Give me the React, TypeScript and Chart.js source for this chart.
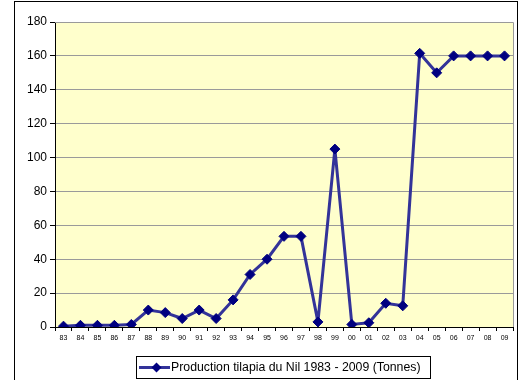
import React, { useEffect, useRef } from "react";
import { Chart, registerables } from "chart.js";

Chart.register(...registerables);

const years = ["83","84","85","86","87","88","89","90","91","92","93","94","95","96","97","98","99","00","01","02","03","04","05","06","07","08","09"];
const production = [0.5,1,1,1,1.5,10,8.5,5,10,5,16,31,40,53.5,53.5,3,105,1.5,2.5,14,12.5,161.5,150,160,160,160,160];
const seriesLabel = "Production tilapia du Nil 1983 - 2009 (Tonnes)";
const yMax = 180;
const yStep = 20;

const FONT = "'Liberation Sans', Arial, sans-serif";

const framePlugin = {
  id: "frame",
  beforeDraw(chart: any) {
    const { ctx, chartArea: a } = chart;
    ctx.save();
    ctx.fillStyle = "#ffffff";
    ctx.fillRect(0, 0, chart.width, chart.height);
    ctx.fillStyle = "#FFFFCC";
    ctx.fillRect(a.left, a.top, a.right - a.left, a.bottom - a.top);
    ctx.restore();
  },
  afterDraw(chart: any) {
    const { ctx, chartArea: a } = chart;
    ctx.save();
    ctx.strokeStyle = "#9a9a9a";
    ctx.lineWidth = 1;
    ctx.beginPath();
    ctx.moveTo(a.left, a.top + 0.5);
    ctx.lineTo(a.right + 0.5, a.top + 0.5);
    ctx.lineTo(a.right + 0.5, a.bottom);
    ctx.stroke();
    // outer border
    ctx.strokeStyle = "#000000";
    ctx.lineWidth = 1;
    ctx.strokeRect(14.5, 1.5, 503, 400);
    // legend
    const lx = 136.5, ly = 356.5, lw = 294, lh = 22;
    ctx.strokeRect(lx, ly, lw, lh);
    const cy = ly + lh / 2;
    ctx.strokeStyle = "#333399";
    ctx.lineWidth = 3;
    ctx.beginPath();
    ctx.moveTo(139, cy);
    ctx.lineTo(170, cy);
    ctx.stroke();
    ctx.fillStyle = "#000080";
    const dx = 156.5, r = 5;
    ctx.beginPath();
    ctx.moveTo(dx, cy - r);
    ctx.lineTo(dx + r, cy);
    ctx.lineTo(dx, cy + r);
    ctx.lineTo(dx - r, cy);
    ctx.closePath();
    ctx.fill();
    ctx.fillStyle = "#000000";
    ctx.font = "12.3px " + FONT;
    ctx.textBaseline = "middle";
    ctx.textAlign = "left";
    ctx.fillText(chart.data.datasets[0].label, 171, cy + 0.5);
    ctx.restore();
  },
};

export default function App() {
  const ref = useRef<HTMLCanvasElement>(null);
  useEffect(() => {
    document.body.style.margin = "0";
    const chart = new Chart(ref.current!, {
      type: "line",
      data: {
        labels: years,
        datasets: [
          {
            label: seriesLabel,
            data: production,
            borderColor: "#333399",
            borderWidth: 3,
            pointStyle: "rectRot",
            pointRadius: 5,
            pointBackgroundColor: "#000080",
            pointBorderColor: "#000080",
            pointBorderWidth: 1,
            tension: 0,
          },
        ],
      },
      options: {
        responsive: false,
        animation: false,
        layout: { padding: { left: 14, top: 22, right: 11, bottom: 0 } },
        plugins: { legend: { display: false }, tooltip: { enabled: false } },
        scales: {
          x: {
            offset: true,
            grid: {
              offset: true,
              drawOnChartArea: false,
              drawTicks: true,
              tickLength: 4,
              color: "#000000",
            },
            border: { color: "#000000", width: 1 },
            ticks: {
              font: { family: FONT, size: 7 },
              color: "#000000",
              padding: 3,
              maxRotation: 0,
              autoSkip: false,
            },
            afterFit(s: any) {
              s.height = 53;
            },
          },
          y: {
            min: 0,
            max: yMax,
            grid: {
              color: (c: any) => (c.tick && c.tick.value === 0 ? "rgba(0,0,0,0)" : "#9a9a9a"),
              tickColor: "#000000",
              tickLength: 5,
              drawTicks: true,
            },
            border: { color: "#000000", width: 1 },
            ticks: {
              stepSize: yStep,
              font: { family: FONT, size: 12 },
              color: "#000000",
              padding: 3,
            },
            afterFit(s: any) {
              s.width = 41;
            },
          },
        },
      },
      plugins: [framePlugin],
    });
    return () => chart.destroy();
  }, []);
  return (
    <div style={{ position: "fixed", left: 0, top: 0, width: 524, height: 380 }}>
      <canvas ref={ref} width={524} height={380} style={{ width: 524, height: 380 }} />
    </div>
  );
}
